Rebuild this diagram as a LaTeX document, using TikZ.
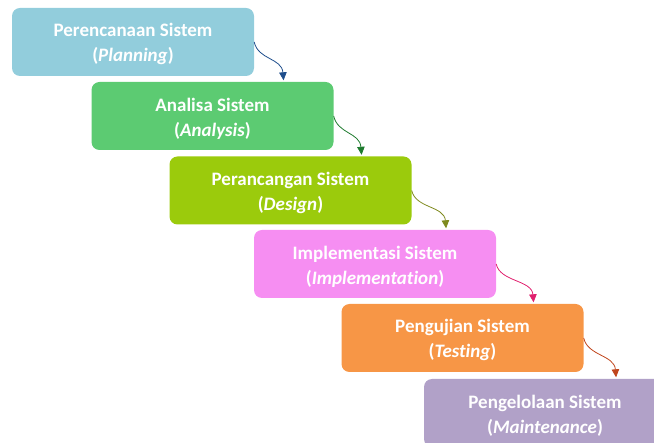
\documentclass[tikz,border=0pt]{standalone}
\usepackage{fontspec}
\setmainfont{Carlito}[Ligatures=NoCommon]
\usetikzlibrary{arrows.meta,calc}
\definecolor{cPlan}{HTML}{92CDDC}
\definecolor{cAna}{HTML}{5CCB72}
\definecolor{cDes}{HTML}{9BCB0C}
\definecolor{cImp}{HTML}{F68EF2}
\definecolor{cTest}{HTML}{F79646}
\definecolor{cMain}{HTML}{B1A1C8}
\definecolor{aPlan}{HTML}{1F4E8C}
\definecolor{aAna}{HTML}{1E7B2E}
\definecolor{aDes}{HTML}{7F8A1E}
\definecolor{aImp}{HTML}{E0206E}
\definecolor{aTest}{HTML}{C0451C}
\newcommand{\topstrut}{\rule{0pt}{18pt}}
\begin{document}
\begin{tikzpicture}[x=1pt,y=1pt,
  stage/.style={rounded corners=8pt, minimum width=242pt, minimum height=68pt,
    text=white, font=\fontsize{19}{25}\selectfont\bfseries, align=center, inner sep=0pt},
  flow/.style={-{Triangle[length=8pt,width=7.5pt]}, line width=0.8pt, shorten >=1.5pt}]
\useasboundingbox (0,0) rectangle (654,-443);
\node[stage, fill=cPlan] (p) at (133,-42) {\topstrut Perencanaan Sistem\\(\textit{Planning})};
\node[stage, fill=cAna] (a) at (212.5,-116) {\topstrut Analisa Sistem\\(\textit{Analysis})};
\node[stage, fill=cDes] (d) at (290.5,-190.5) {\topstrut Perancangan Sistem\\(\textit{Design})};
\node[stage, fill=cImp] (i) at (375,-264) {\topstrut Implementasi Sistem\\(\textit{Implementation})};
\node[stage, fill=cTest] (t) at (462.5,-338) {\topstrut Pengujian Sistem\\(\textit{Testing})};
\node[stage, fill=cMain] (m) at (545,-413) {\topstrut Pengelolaan Sistem\\(\textit{Maintenance})};
\foreach \s/\e/\c in {p/a/aPlan, a/d/aAna, d/i/aDes, i/t/aImp, t/m/aTest}{
  \draw[flow, draw=\c] (\s.east) .. controls ($(\s.east)+(4,-18)$) and ($([xshift=-50pt]\e.north east)+(-2,24)$) .. ([xshift=-50pt]\e.north east);
}
\end{tikzpicture}
\end{document}
